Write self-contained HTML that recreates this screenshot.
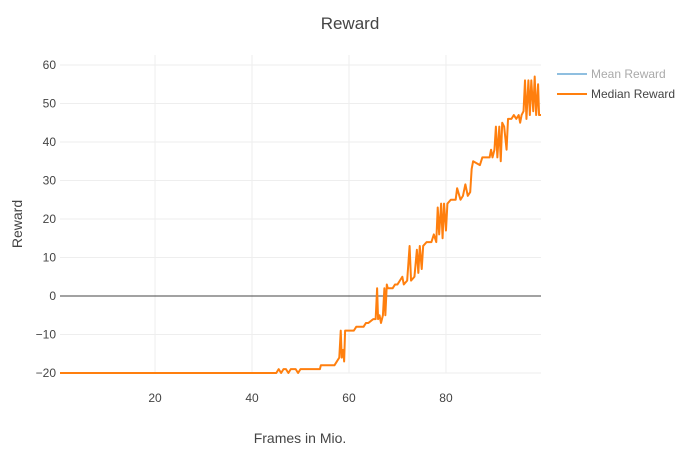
<!DOCTYPE html>
<html><head><meta charset="utf-8"><style>
body{margin:0;background:#fff;font-family:"Liberation Sans",sans-serif}
svg text{font-family:"Liberation Sans",sans-serif;fill:#444}
</style></head><body>
<svg id="c" width="700" height="450"></svg>
<script>
const xs=[0.4,45,45.5,46,46.5,47,47.5,48,49,49.5,50,54,54.2,57,57.5,58,58.3,58.5,58.8,59,59.2,60,61,61.5,63,63.5,64,65,65.5,65.8,66,66.3,66.6,67,67.3,67.5,67.8,68,69,69.5,70,70.5,71,71.3,72,72.5,72.8,73.5,74,74.3,74.6,75,75.3,76,77,77.5,78,78.3,78.6,79,79.3,79.6,80,80.3,81,82,82.3,83,83.5,84,84.5,85,85.3,85.6,87,87.5,89,89.3,89.6,90,90.3,90.6,91,91.3,91.6,92,92.5,92.8,93.5,94,94.5,95,95.3,95.6,96,96.3,96.6,97,97.3,97.6,98,98.3,98.6,99,99.2,99.6];
const median=[-20,-20,-19,-20,-19,-19,-20,-19,-19,-20,-19,-19,-18,-18,-17,-16,-9,-16,-14,-17,-9,-9,-9,-8,-8,-7,-7,-6,-6,2,-6,-5,-7,-5,2,-5,3,2,2,3,3,4,5,3,4,13,4,5,12,6,13,7,13,14,14,16,14,23,16,24,15,24,17,24,25,25,28,25,26,29,26,27,33,35,34,36,36,38,36,38,44,36,44,35,45,44,38,46,46,47,46,47,45,47,48,56,46,56,47,56,48,57,47,55,47,47];
const yTicks=[-20,-10,0,10,20,30,40,50,60];
const xTicks=[20,40,60,80];
const L=60,R=541,T=65,B=373,x0=0.4,x1=99.6,y0=-20,y1=60;
const X=v=>L+(v-x0)/(x1-x0)*(R-L), Y=v=>B-(v-y0)/(y1-y0)*(B-T);
const s=document.getElementById('c'),NS='http://www.w3.org/2000/svg';
function mk(t,a,txt){const e=document.createElementNS(NS,t);for(const k in a)e.setAttribute(k,a[k]);if(txt!==undefined)e.textContent=txt;s.appendChild(e);return e;}
xTicks.forEach(v=>{
 const g=mk('line',{x1:X(v),x2:X(v),y1:T-10,y2:B,stroke:'#eee','stroke-width':1});
 
 
 const t=mk('text',{x:X(v),y:B+29,'text-anchor':'middle','font-size':12},String(v));
 
 
});
yTicks.forEach(v=>{
 const g=mk('line',{x1:L,x2:R,y1:Y(v),y2:Y(v),stroke:v===0?'#444':'#eee','stroke-width':1});
 
 
 const t=mk('text',{x:L-4,y:Y(v)+4,'text-anchor':'end','font-size':12},v<0?'\u2212'+(-v):String(v));
 
 
});
const p=mk('polyline',{points:xs.map((x,i)=>X(x)+','+Y(median[i])).join(' '),fill:'none',stroke:'#ff7f0e','stroke-width':2,'stroke-linejoin':'round'});


</script>
<script>
(function(){
const s=document.getElementById('c'),NS='http://www.w3.org/2000/svg';
function mk(t,a,txt,n,i){const e=document.createElementNS(NS,t);for(const k in a)e.setAttribute(k,a[k]);if(txt!==undefined&&txt!==null)e.textContent=txt;s.appendChild(e);return e;}
mk('text',{x:350,y:29,'text-anchor':'middle','font-size':17},'Reward','chart-title','false');
mk('text',{x:300,y:443,'text-anchor':'middle','font-size':14},'Frames in Mio.','x-axis-title','false');
mk('text',{x:22,y:224,'text-anchor':'middle','font-size':14,transform:'rotate(-90 22 224)'},'Reward','y-axis-title','false');
mk('line',{x1:557,x2:587,y1:74,y2:74,stroke:'#8fbfe0','stroke-width':2},null,'legend-mean-swatch','true');
mk('text',{x:591,y:78,'font-size':12,style:'fill:#aaa'},'Mean Reward','legend-mean-reward','true');
mk('line',{x1:557,x2:587,y1:94,y2:94,stroke:'#ff7f0e','stroke-width':2},null,'legend-median-swatch','true');
mk('text',{x:591,y:98,'font-size':12},'Median Reward','legend-median-reward','true');
})();
</script>
</body></html>
